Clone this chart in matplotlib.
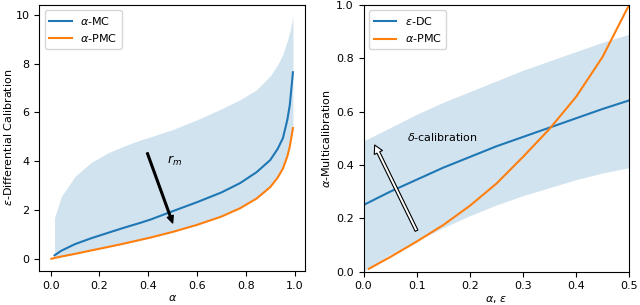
import matplotlib
matplotlib.use("Agg")
import matplotlib.pyplot as plt

# left panel: alpha vs epsilon-DC
alpha = [0.016, 0.044, 0.1, 0.166, 0.234, 0.3, 0.37, 0.41, 0.5, 0.6, 0.7, 0.776,
         0.844, 0.9, 0.93, 0.952, 0.97, 0.98, 0.993]
mc = [0.14, 0.33, 0.6, 0.84, 1.06, 1.27, 1.48, 1.61, 1.95, 2.32, 2.72, 3.1,
      3.55, 4.05, 4.5, 4.95, 5.7, 6.3, 7.65]
pmc_left = [0.03, 0.09, 0.2, 0.34, 0.48, 0.62, 0.78, 0.87, 1.1, 1.39, 1.73, 2.07,
            2.47, 2.94, 3.32, 3.7, 4.2, 4.6, 5.36]
band_top = [1.69, 2.56, 3.38, 3.95, 4.34, 4.62, 4.88, 5.0, 5.3, 5.7, 6.15, 6.52,
            6.93, 7.5, 7.95, 8.4, 8.95, 9.3, 9.93]

# right panel: alpha / epsilon vs alpha-MC
eps = [0.0, 0.01, 0.05, 0.1, 0.15, 0.2, 0.25, 0.3, 0.35, 0.4, 0.45, 0.5]
dc = [0.25, 0.26, 0.3, 0.345, 0.39, 0.43, 0.47, 0.505, 0.54, 0.575, 0.61, 0.642]
pmc_right = [None, 0.011, 0.055, 0.113, 0.175, 0.247, 0.33, 0.43, 0.535, 0.655, 0.805, 1.0]
band_hi = [0.49, 0.5, 0.54, 0.59, 0.635, 0.675, 0.715, 0.755, 0.79, 0.825, 0.86, 0.89]
band_lo = [0.0, 0.015, 0.065, 0.115, 0.165, 0.21, 0.25, 0.285, 0.315, 0.345, 0.37, 0.39]

plt.rcParams['font.size'] = 8

fig = plt.figure(figsize=(6.4, 3.05), dpi=100)
ax1 = fig.add_axes([0.0614, 0.112, 0.4152, 0.873])
ax2 = fig.add_axes([0.568, 0.109, 0.415, 0.875])

ax1.fill_between(alpha, mc, band_top, color='C0', alpha=0.2, linewidth=0)
ax1.fill_between(alpha, pmc_left, mc, color='C0', alpha=0.2, linewidth=0)
ax1.plot(alpha, mc, color='C0', label=r'$\alpha$-MC')
ax1.plot([0.003] + alpha, [0.0] + pmc_left, color='C1', label=r'$\alpha$-PMC')
ax1.annotate('', xy=(0.50, 1.47), xytext=(0.396, 4.34),
             arrowprops=dict(facecolor='black', edgecolor='black', width=1.2,
                             headwidth=4.5, headlength=5))
ax1.text(0.478, 4.0, r'$r_m$', va='center', ha='left', fontsize=9)
ax1.set_xticks([0.0, 0.2, 0.4, 0.6, 0.8, 1.0])
ax1.set_yticks([0, 2, 4, 6, 8, 10])
ax1.set_xlabel(r'$\alpha$', labelpad=2)
ax1.set_ylabel(r'$\varepsilon$-Differential Calibration', labelpad=1)
ax1.legend(loc='upper left')

ax2.fill_between(eps, band_lo, band_hi, color='C0', alpha=0.2, linewidth=0)
ax2.plot(eps, dc, color='C0', label=r'$\varepsilon$-DC')
ax2.plot(eps[1:], pmc_right[1:], color='C1', label=r'$\alpha$-PMC')
ax2.annotate('', xy=(0.021, 0.475), xytext=(0.0998, 0.154),
             arrowprops=dict(facecolor='white', edgecolor='black', width=2.2,
                             headwidth=6.5, headlength=6, linewidth=0.8))
ax2.text(0.081, 0.504, r'$\delta$-calibration', va='center', ha='left')
ax2.set_xlim(0, 0.5)
ax2.set_ylim(0, 1)
ax2.set_xticks([0.0, 0.1, 0.2, 0.3, 0.4, 0.5])
ax2.set_yticks([0.0, 0.2, 0.4, 0.6, 0.8, 1.0])
ax2.set_xlabel(r'$\alpha$, $\varepsilon$', labelpad=2)
ax2.set_ylabel(r'$\alpha$-Multicalibration', labelpad=3)
ax2.legend(loc='upper left')

fig.savefig('out.png', dpi=100)
